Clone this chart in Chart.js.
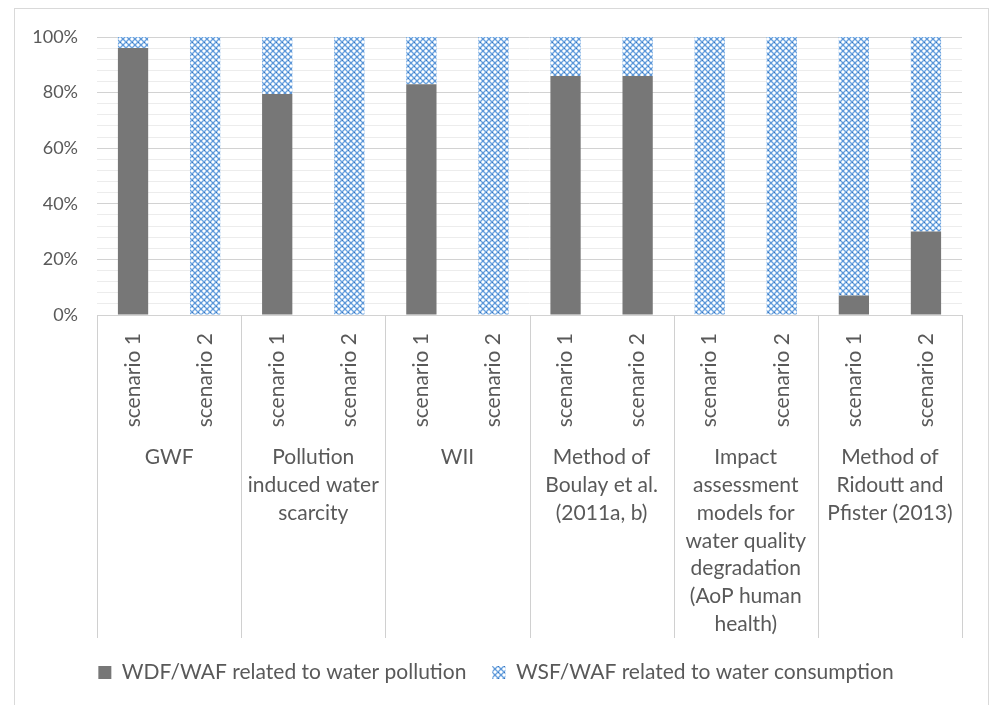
<!DOCTYPE html>
<html>
<head>
<meta charset="utf-8">
<script src="https://cdn.jsdelivr.net/npm/chart.js@4.4.1/dist/chart.umd.min.js"></script>
<style>
  html, body { margin: 0; padding: 0; background: #fff; overflow: hidden; }
  #wrap { position: relative; width: 989px; height: 705px; }
  #frame { position: absolute; left: 14px; top: 8px; width: 975px; height: 720px; border: 1px solid #d9d9d9; box-sizing: border-box; }
  #chart { position: absolute; left: 0; top: 0; }
</style>
</head>
<body>
<div id="wrap">
  <div id="frame"></div>
  <canvas id="chart" width="989" height="705"></canvas>
</div>
<script>
const scenarioLabels = [
  'scenario 1', 'scenario 2',
  'scenario 1', 'scenario 2',
  'scenario 1', 'scenario 2',
  'scenario 1', 'scenario 2',
  'scenario 1', 'scenario 2',
  'scenario 1', 'scenario 2',
];
const methodLabels = [
  'GWF',
  ['Pollution', 'induced water', 'scarcity'],
  'WII',
  ['Method of', 'Boulay et al.', '(2011a, b)'],
  ['Impact', 'assessment', 'models for', 'water quality', 'degradation', '(AoP human', 'health)'],
  ['Method of', 'Ridoutt and', 'Pfister (2013)'],
];
const pollutionShare = [96, 0, 79.5, 0, 83, 0, 86, 86, 0, 0, 7, 30];
const consumptionShare = [4, 100, 20.5, 100, 17, 100, 14, 14, 100, 100, 93, 70];
const seriesNames = ['WDF/WAF related to water pollution', 'WSF/WAF related to water consumption'];

const textColor = '#595959';
const fontFamily = 'Lato, "Open Sans", sans-serif';

function makeHatch() {
  const tile = document.createElement('canvas');
  tile.width = 6;
  tile.height = 6;
  const t = tile.getContext('2d');
  t.fillStyle = '#ffffff';
  t.fillRect(0, 0, 6, 6);
  t.strokeStyle = '#6aa3e0';
  t.lineWidth = 1.4;
  t.beginPath();
  t.moveTo(0, 0); t.lineTo(6, 6);
  t.moveTo(6, 0); t.lineTo(0, 6);
  t.stroke();
  t.fillStyle = '#3a72ba';
  t.fillRect(2.5, 2.5, 1, 1);
  t.fillRect(0, 0, 1, 1);
  return t.createPattern(tile, 'repeat');
}

// vertical lines boxing each method group below the plot
const groupLines = {
  id: 'groupLines',
  afterDraw(chart) {
    const x = chart.scales.x;
    const ctx = chart.ctx;
    const top = chart.chartArea.bottom;
    const bottom = 638;
    ctx.save();
    ctx.strokeStyle = '#d0d0d0';
    ctx.lineWidth = 1;
    ctx.beginPath();
    for (let i = 0; i <= methodLabels.length; i++) {
      const px = Math.round(x.getPixelForValue(i * 2 - 0.5)) + 0.5;
      ctx.moveTo(px, top);
      ctx.lineTo(px, bottom);
    }
    ctx.stroke();
    ctx.restore();
  },
};

const hatch = makeHatch();

new Chart(document.getElementById('chart').getContext('2d'), {
  type: 'bar',
  data: {
    labels: scenarioLabels,
    datasets: [
      {
        label: seriesNames[0],
        data: pollutionShare,
        backgroundColor: '#777777',
        borderWidth: 0,
        barPercentage: 0.42,
        categoryPercentage: 1,
      },
      {
        label: seriesNames[1],
        data: consumptionShare,
        backgroundColor: hatch,
        borderWidth: 0,
        barPercentage: 0.42,
        categoryPercentage: 1,
      },
    ],
  },
  options: {
    responsive: false,
    animation: false,
    layout: { padding: { left: 30, right: 27, top: 37, bottom: 12 } },
    plugins: {
      tooltip: { enabled: false },
      legend: {
        position: 'bottom',
        labels: {
          boxWidth: 13,
          boxHeight: 13,
          padding: 26,
          color: textColor,
          font: { family: fontFamily, size: 21 },
        },
      },
    },
    scales: {
      y: {
        stacked: true,
        min: 0,
        max: 100,
        afterFit: (scale) => { scale.width = 67; },
        border: { display: false },
        grid: {
          drawTicks: false,
          color: (ctx) => (ctx.tick && ctx.tick.value % 20 === 0 ? '#d2d2d2' : '#ececec'),
        },
        ticks: {
          stepSize: 4,
          autoSkip: false,
          padding: 19,
          color: textColor,
          font: { family: fontFamily, size: 18 },
          callback: (v) => (v % 20 === 0 ? v + '%' : ''),
        },
      },
      x: {
        stacked: true,
        weight: 0,
        afterFit: (scale) => { scale.height = 125; },
        border: { display: true, color: '#d2d2d2' },
        grid: { display: false, drawTicks: false },
        ticks: {
          autoSkip: false,
          minRotation: 90,
          maxRotation: 90,
          padding: 18,
          color: textColor,
          font: { family: fontFamily, size: 21 },
        },
      },
      x2: {
        type: 'category',
        position: 'bottom',
        weight: 1,
        labels: methodLabels,
        offset: true,
        afterFit: (scale) => { scale.height = 196; },
        border: { display: false },
        grid: { display: false, drawTicks: false },
        ticks: {
          autoSkip: false,
          maxRotation: 0,
          minRotation: 0,
          padding: 3,
          color: textColor,
          font: { family: fontFamily, size: 21, lineHeight: 1.33 },
        },
      },
    },
  },
  plugins: [groupLines],
});
</script>
</body>
</html>
